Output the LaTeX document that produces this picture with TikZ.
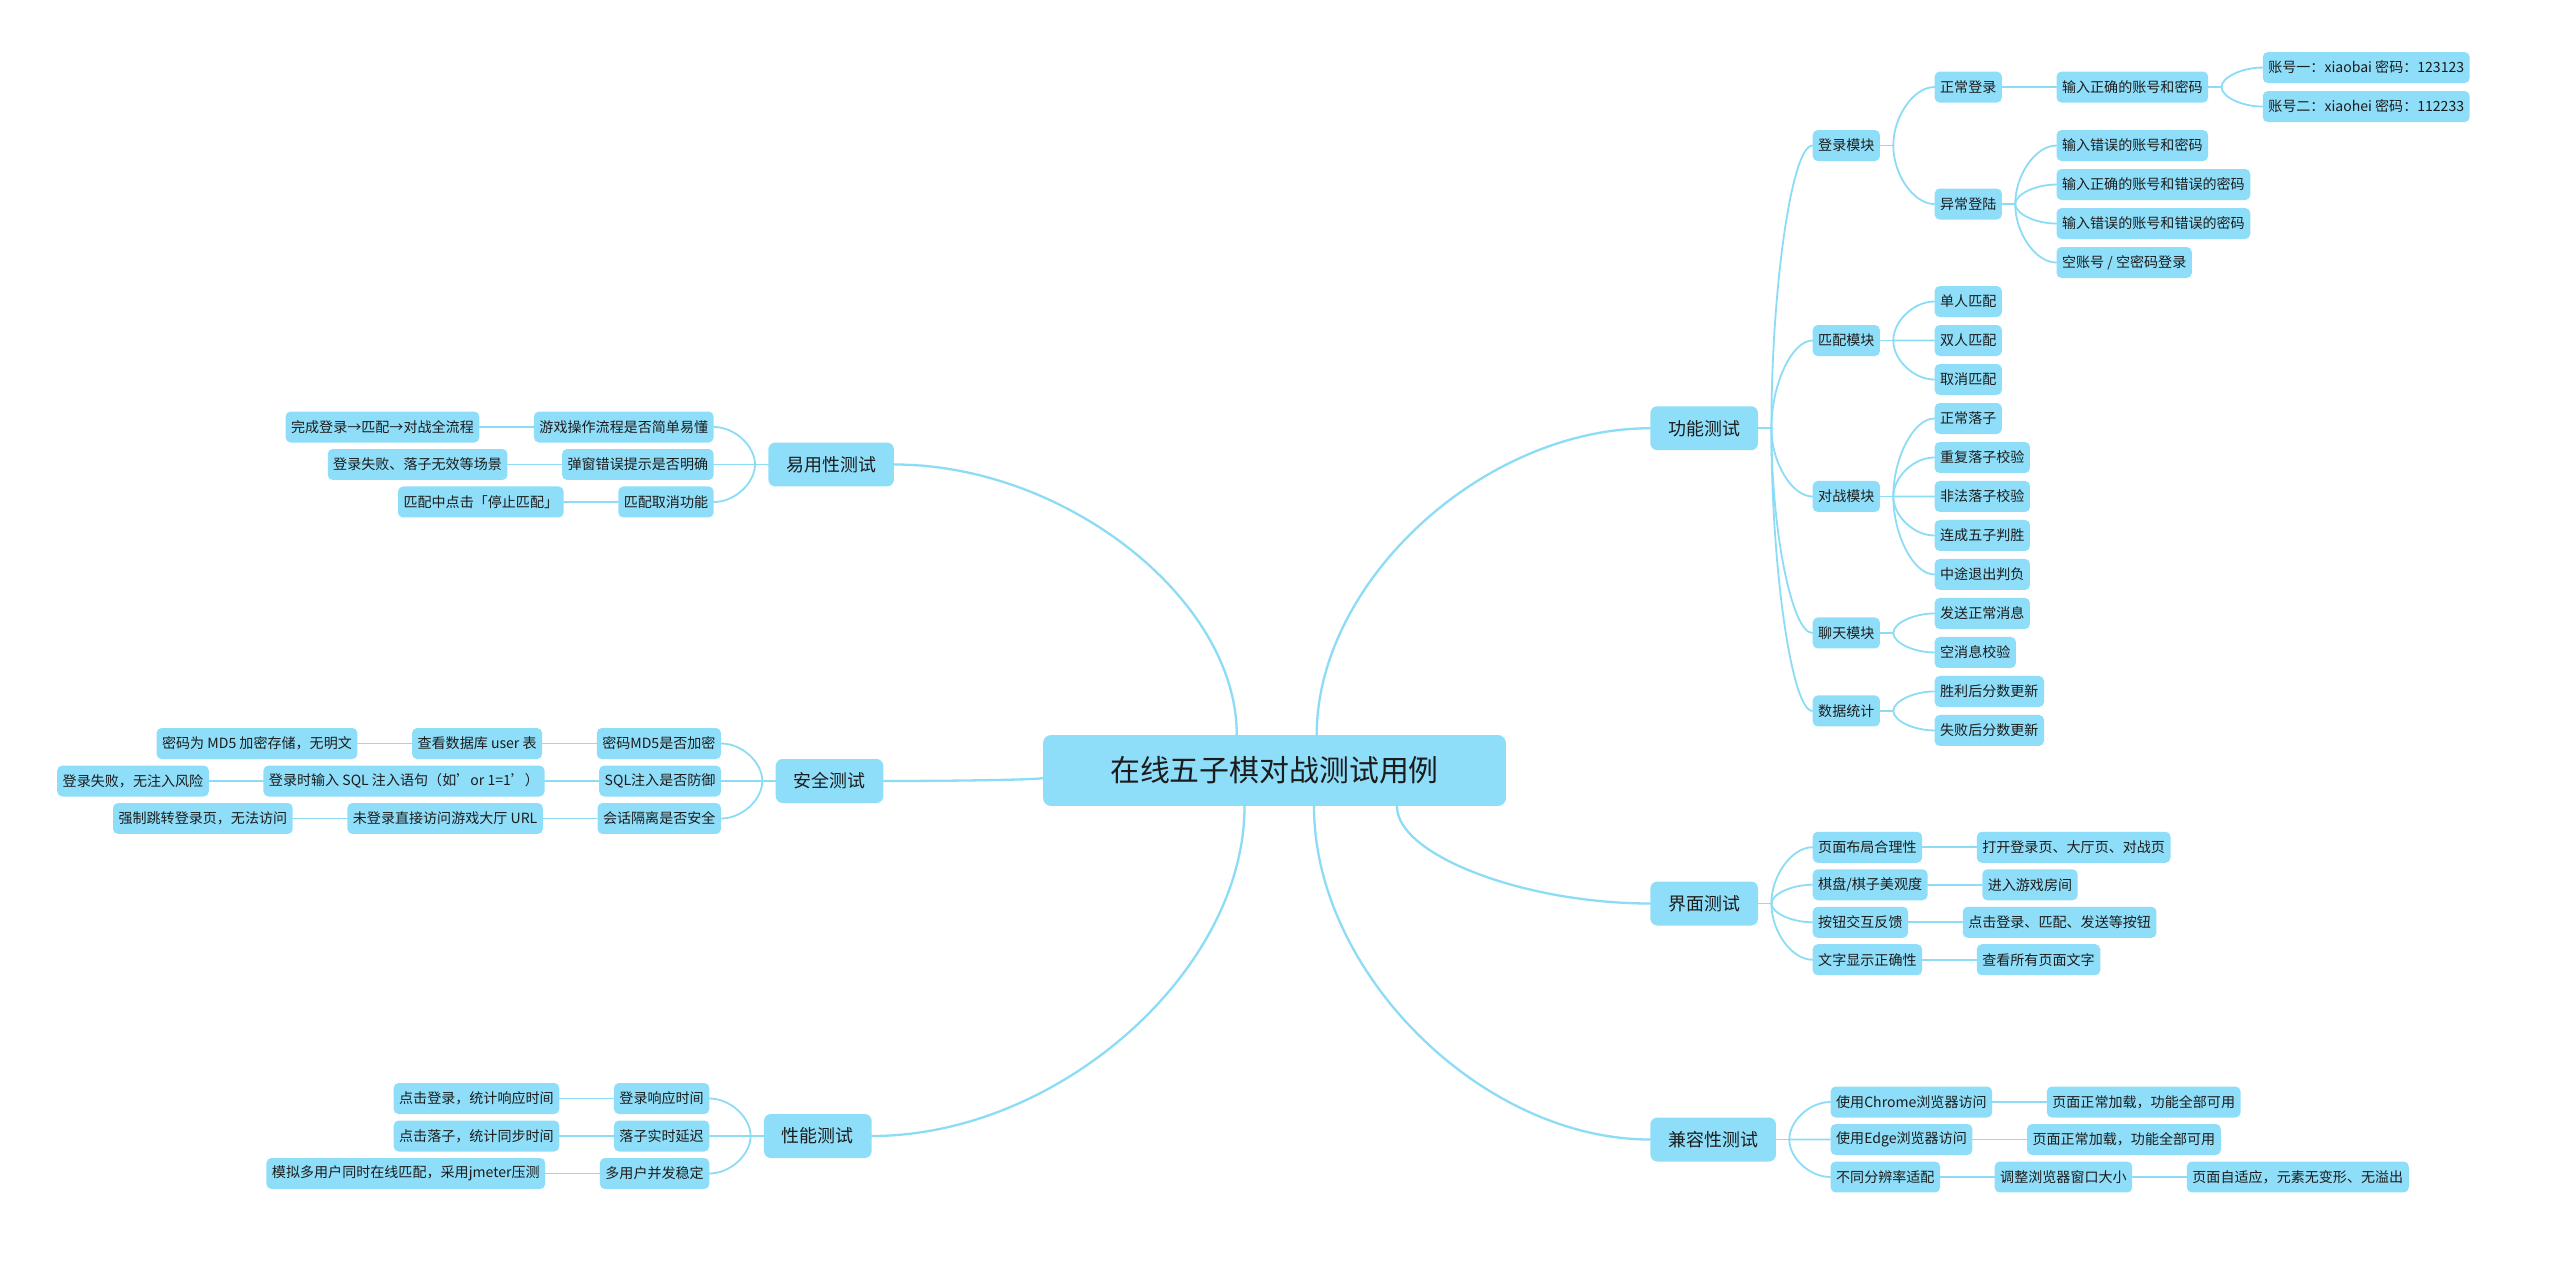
\documentclass[tikz,border=0pt]{standalone}
\usepackage{fontspec}
\setmainfont{Noto Sans CJK SC}
\usepackage{xcolor}
\definecolor{mmblue}{RGB}{143,222,249}
\definecolor{mmline}{RGB}{140,220,246}
\definecolor{mmtext}{RGB}{28,28,28}
\usetikzlibrary{positioning,calc}
\newcommand{\mmlink}[4][link]{%
  \draw[#1] (#2) -- ++(#3,0) coordinate (jn);
  \coordinate (mid) at ($(jn)!0.5!(#4)$);
  \draw[#1] (jn) .. controls (jn |- mid) and (mid |- #4) .. (#4);}

\begin{document}
\begin{tikzpicture}[x=0.02cm,y=-0.02cm,
  leaf/.style={fill=mmblue,text=mmtext,rounded corners=0.1cm,font=\fontsize{8}{9.6}\selectfont,
    inner xsep=0.11cm,inner ysep=0pt,minimum height=0.62cm},
  topic/.style={leaf,rounded corners=0.14cm,font=\fontsize{10.2}{12}\selectfont,
    inner xsep=0.36cm,minimum height=0.88cm},
  central/.style={leaf,rounded corners=0.16cm,font=\fontsize{17}{20}\selectfont,
    minimum width=9.26cm,minimum height=1.42cm},
  link/.style={draw=mmline,line width=0.036cm,line cap=round},
  rootlink/.style={link,line width=0.046cm}
]
  \fill[white] (0,0) rectangle (2550,1264);
  \useasboundingbox (0,0) rectangle (2550,1264);

  \node[central] (root) at (1274.5,770.5) {在线五子棋对战测试用例};

  \node[topic,anchor=west] (func) at (1650,428.25) {功能测试};
  \node[topic,anchor=west] (ui) at (1650,903.5) {界面测试};
  \node[topic,anchor=west] (compat) at (1650,1139.5) {兼容性测试};
  \node[topic,anchor=east] (usab) at (894.3,464.5) {易用性测试};
  \node[topic,anchor=east] (sec) at (883.7,781) {安全测试};
  \node[topic,anchor=east] (perf) at (872,1136) {性能测试};

  % 功能测试
  \node[leaf,right=1.08cm of func,yshift=5.655cm] (login) {登录模块};
  \node[leaf,right=1.08cm of func,yshift=1.755cm] (match) {匹配模块};
  \node[leaf,right=1.08cm of func,yshift=-1.365cm] (battle) {对战模块};
  \node[leaf,right=1.08cm of func,yshift=-4.095cm] (chat) {聊天模块};
  \node[leaf,right=1.08cm of func,yshift=-5.655cm] (stats) {数据统计};

  \node[leaf,right=1.08cm of login,yshift=1.17cm] (okin) {正常登录};
  \node[leaf,right=1.08cm of login,yshift=-1.17cm] (badin) {异常登陆};
  \node[leaf,right=1.08cm of okin] (okpwd) {输入正确的账号和密码};
  \node[leaf,right=1.08cm of okpwd,yshift=0.39cm] (acc1) {账号一：xiaobai 密码：123123};
  \node[leaf,right=1.08cm of okpwd,yshift=-0.39cm] (acc2) {账号二：xiaohei 密码：112233};
  \node[leaf,right=1.08cm of badin,yshift=1.17cm] (bad1) {输入错误的账号和密码};
  \node[leaf,right=1.08cm of badin,yshift=0.39cm] (bad2) {输入正确的账号和错误的密码};
  \node[leaf,right=1.08cm of badin,yshift=-0.39cm] (bad3) {输入错误的账号和错误的密码};
  \node[leaf,right=1.08cm of badin,yshift=-1.17cm] (bad4) {空账号 / 空密码登录};

  \node[leaf,right=1.08cm of match,yshift=0.78cm] (match1) {单人匹配};
  \node[leaf,right=1.08cm of match] (match2) {双人匹配};
  \node[leaf,right=1.08cm of match,yshift=-0.78cm] (match3) {取消匹配};

  \node[leaf,right=1.08cm of battle,yshift=1.56cm] (move1) {正常落子};
  \node[leaf,right=1.08cm of battle,yshift=0.78cm] (move2) {重复落子校验};
  \node[leaf,right=1.08cm of battle] (move3) {非法落子校验};
  \node[leaf,right=1.08cm of battle,yshift=-0.78cm] (move4) {连成五子判胜};
  \node[leaf,right=1.08cm of battle,yshift=-1.56cm] (move5) {中途退出判负};

  \node[leaf,right=1.08cm of chat,yshift=0.39cm] (msg1) {发送正常消息};
  \node[leaf,right=1.08cm of chat,yshift=-0.39cm] (msg2) {空消息校验};

  \node[leaf,right=1.08cm of stats,yshift=0.39cm] (score1) {胜利后分数更新};
  \node[leaf,right=1.08cm of stats,yshift=-0.39cm] (score2) {失败后分数更新};

  % 界面测试
  \node[leaf,right=1.08cm of ui,yshift=1.125cm] (ui1) {页面布局合理性};
  \node[leaf,right=1.08cm of ui,yshift=0.375cm] (ui2) {棋盘/棋子美观度};
  \node[leaf,right=1.08cm of ui,yshift=-0.375cm] (ui3) {按钮交互反馈};
  \node[leaf,right=1.08cm of ui,yshift=-1.125cm] (ui4) {文字显示正确性};
  \node[leaf,right=1.08cm of ui1] (uistep1) {打开登录页、大厅页、对战页};
  \node[leaf,right=1.08cm of ui2] (uistep2) {进入游戏房间};
  \node[leaf,right=1.08cm of ui3] (uistep3) {点击登录、匹配、发送等按钮};
  \node[leaf,right=1.08cm of ui4] (uistep4) {查看所有页面文字};

  % 兼容性测试
  \node[leaf,right=1.08cm of compat,yshift=0.75cm] (cp1) {使用Chrome浏览器访问};
  \node[leaf,right=1.08cm of compat] (cp2) {使用Edge浏览器访问};
  \node[leaf,right=1.08cm of compat,yshift=-0.75cm] (cp3) {不同分辨率适配};
  \node[leaf,right=1.08cm of cp1] (cpres1) {页面正常加载，功能全部可用};
  \node[leaf,right=1.08cm of cp2] (cpres2) {页面正常加载，功能全部可用};
  \node[leaf,right=1.08cm of cp3] (cpstep3) {调整浏览器窗口大小};
  \node[leaf,right=1.08cm of cpstep3] (cpres3) {页面自适应，元素无变形、无溢出};

  % 易用性测试
  \node[leaf,left=1.08cm of usab,yshift=0.75cm] (us1) {游戏操作流程是否简单易懂};
  \node[leaf,left=1.08cm of usab] (us2) {弹窗错误提示是否明确};
  \node[leaf,left=1.08cm of usab,yshift=-0.75cm] (us3) {匹配取消功能};
  \node[leaf,left=1.08cm of us1] (usstep1) {完成登录→匹配→对战全流程};
  \node[leaf,left=1.08cm of us2] (usstep2) {登录失败、落子无效等场景};
  \node[leaf,left=1.08cm of us3] (usstep3) {匹配中点击「停止匹配」};

  % 安全测试
  \node[leaf,left=1.08cm of sec,yshift=0.75cm] (sc1) {密码MD5是否加密};
  \node[leaf,left=1.08cm of sec] (sc2) {SQL注入是否防御};
  \node[leaf,left=1.08cm of sec,yshift=-0.75cm] (sc3) {会话隔离是否安全};
  \node[leaf,left=1.08cm of sc1] (scstep1) {查看数据库 user 表};
  \node[leaf,left=1.08cm of sc2] (scstep2) {登录时输入 SQL 注入语句（如'or 1=1'）};
  \node[leaf,left=1.08cm of sc3] (scstep3) {未登录直接访问游戏大厅 URL};
  \node[leaf,left=1.08cm of scstep1] (scres1) {密码为 MD5 加密存储，无明文};
  \node[leaf,left=1.08cm of scstep2] (scres2) {登录失败，无注入风险};
  \node[leaf,left=1.08cm of scstep3] (scres3) {强制跳转登录页，无法访问};

  % 性能测试
  \node[leaf,left=1.08cm of perf,yshift=0.75cm] (pf1) {登录响应时间};
  \node[leaf,left=1.08cm of perf] (pf2) {落子实时延迟};
  \node[leaf,left=1.08cm of perf,yshift=-0.75cm] (pf3) {多用户并发稳定};
  \node[leaf,left=1.08cm of pf1] (pfstep1) {点击登录，统计响应时间};
  \node[leaf,left=1.08cm of pf2] (pfstep2) {点击落子，统计同步时间};
  \node[leaf,left=1.08cm of pf3] (pfstep3) {模拟多用户同时在线匹配，采用jmeter压测};

  % root links
  \coordinate (tofunc) at ([xshift=0.845cm]root.north);
  \coordinate (tousab) at ([xshift=-0.755cm]root.north);
  \coordinate (toui) at ([xshift=2.45cm]root.south);
  \coordinate (tocompat) at ([xshift=0.79cm]root.south);
  \coordinate (toperf) at ([xshift=-0.6cm]root.south);
  \coordinate (tosec) at ([yshift=-0.15cm]root.west);
  \mmlink[rootlink]{tofunc}{0pt}{func.west}
  \mmlink[rootlink]{tousab}{0pt}{usab.east}
  \mmlink[rootlink]{toui}{0pt}{ui.west}
  \mmlink[rootlink]{tocompat}{0pt}{compat.west}
  \mmlink[rootlink]{toperf}{0pt}{perf.east}
  \mmlink[rootlink]{tosec}{0pt}{sec.east}

  % branch links
  \mmlink{func.east}{0.26cm}{login.west}
  \mmlink{func.east}{0.26cm}{match.west}
  \mmlink{func.east}{0.26cm}{battle.west}
  \mmlink{func.east}{0.26cm}{chat.west}
  \mmlink{func.east}{0.26cm}{stats.west}
  \mmlink{login.east}{0.26cm}{okin.west}
  \mmlink{login.east}{0.26cm}{badin.west}
  \draw[link] (okin) -- (okpwd);
  \mmlink{okpwd.east}{0.26cm}{acc1.west}
  \mmlink{okpwd.east}{0.26cm}{acc2.west}
  \mmlink{badin.east}{0.26cm}{bad1.west}
  \mmlink{badin.east}{0.26cm}{bad2.west}
  \mmlink{badin.east}{0.26cm}{bad3.west}
  \mmlink{badin.east}{0.26cm}{bad4.west}
  \mmlink{match.east}{0.26cm}{match1.west}
  \mmlink{match.east}{0.26cm}{match2.west}
  \mmlink{match.east}{0.26cm}{match3.west}
  \mmlink{battle.east}{0.26cm}{move1.west}
  \mmlink{battle.east}{0.26cm}{move2.west}
  \mmlink{battle.east}{0.26cm}{move3.west}
  \mmlink{battle.east}{0.26cm}{move4.west}
  \mmlink{battle.east}{0.26cm}{move5.west}
  \mmlink{chat.east}{0.26cm}{msg1.west}
  \mmlink{chat.east}{0.26cm}{msg2.west}
  \mmlink{stats.east}{0.26cm}{score1.west}
  \mmlink{stats.east}{0.26cm}{score2.west}

  \mmlink{ui.east}{0.26cm}{ui1.west}
  \mmlink{ui.east}{0.26cm}{ui2.west}
  \mmlink{ui.east}{0.26cm}{ui3.west}
  \mmlink{ui.east}{0.26cm}{ui4.west}
  \draw[link] (ui1) -- (uistep1);
  \draw[link] (ui2) -- (uistep2);
  \draw[link] (ui3) -- (uistep3);
  \draw[link] (ui4) -- (uistep4);

  \mmlink{compat.east}{0.26cm}{cp1.west}
  \mmlink{compat.east}{0.26cm}{cp2.west}
  \mmlink{compat.east}{0.26cm}{cp3.west}
  \draw[link] (cp1) -- (cpres1);
  \draw[link] (cp2) -- (cpres2);
  \draw[link] (cp3) -- (cpstep3);
  \draw[link] (cpstep3) -- (cpres3);

  \mmlink{usab.west}{-0.26cm}{us1.east}
  \mmlink{usab.west}{-0.26cm}{us2.east}
  \mmlink{usab.west}{-0.26cm}{us3.east}
  \draw[link] (us1) -- (usstep1);
  \draw[link] (us2) -- (usstep2);
  \draw[link] (us3) -- (usstep3);

  \mmlink{sec.west}{-0.26cm}{sc1.east}
  \mmlink{sec.west}{-0.26cm}{sc2.east}
  \mmlink{sec.west}{-0.26cm}{sc3.east}
  \draw[link] (sc1) -- (scstep1);
  \draw[link] (sc2) -- (scstep2);
  \draw[link] (sc3) -- (scstep3);
  \draw[link] (scstep1) -- (scres1);
  \draw[link] (scstep2) -- (scres2);
  \draw[link] (scstep3) -- (scres3);

  \mmlink{perf.west}{-0.26cm}{pf1.east}
  \mmlink{perf.west}{-0.26cm}{pf2.east}
  \mmlink{perf.west}{-0.26cm}{pf3.east}
  \draw[link] (pf1) -- (pfstep1);
  \draw[link] (pf2) -- (pfstep2);
  \draw[link] (pf3) -- (pfstep3);
\end{tikzpicture}
\end{document}
